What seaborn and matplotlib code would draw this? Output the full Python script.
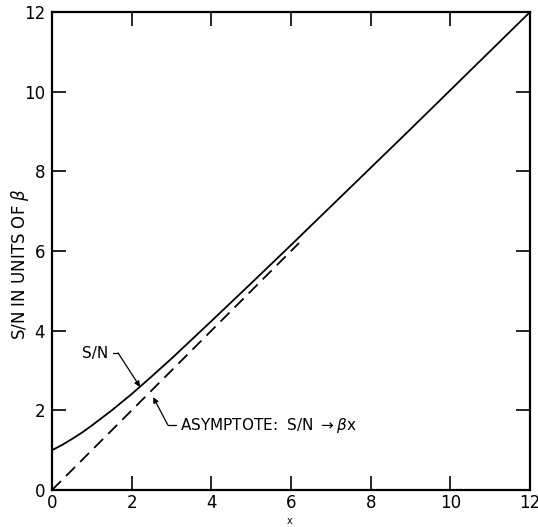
import matplotlib
matplotlib.use("Agg")
import matplotlib.pyplot as plt
import seaborn as sns
import pandas as pd

# Data
x_curve = [0.0, 0.25, 0.5, 0.75, 1.0, 1.5, 2.0, 2.5, 3.0, 3.5, 4.0, 5.0, 6.0, 7.0, 8.0, 9.0, 10.0, 11.0, 12.0]
sn_curve = [1.0, 1.13, 1.28, 1.44, 1.62, 2.0, 2.41, 2.85, 3.30, 3.77, 4.24, 5.19, 6.15, 7.12, 8.09, 9.06, 10.04, 11.02, 12.0]
x_asym = [0.0, 6.2]
y_asym = [0.0, 6.2]
ticks = [0, 2, 4, 6, 8, 10, 12]

sns.set_theme(style="ticks")
plt.rcParams['font.family'] = ['DejaVu Sans']
plt.rcParams['text.color'] = 'black'

fig = plt.figure(figsize=(5.38, 5.27), dpi=100)
ax = fig.add_axes([0.0967, 0.0702, 0.8883, 0.9068])

df_c = pd.DataFrame({"x": x_curve, "y": sn_curve})
df_a = pd.DataFrame({"x": x_asym, "y": y_asym})
sns.lineplot(data=df_c, x="x", y="y", ax=ax, color="black", linewidth=1.3, sort=False)
sns.lineplot(data=df_a, x="x", y="y", ax=ax, color="black", linewidth=1.3,
             linestyle=(0, (7, 4)), sort=False)

ax.set_xlim(0, 12)
ax.set_ylim(0, 12)
ax.set_xticks(ticks)
ax.set_yticks(ticks)
ax.set_xticklabels([str(t) for t in ticks], fontsize=12)
ax.set_yticklabels([str(t) for t in ticks], fontsize=12)
ax.tick_params(direction="in", length=10, width=1.2, top=True, right=True,
               colors="black")
ax.tick_params(axis="x", pad=3)
ax.tick_params(axis="y", pad=5)
for s in ax.spines.values():
    s.set_visible(True)
    s.set_linewidth(1.6)
    s.set_color("black")

ax.set_xlabel("")
ax.set_ylabel("")
fig.text(290 / 538, 1 - 521 / 527, "x", fontsize=7, ha="center", va="center")
fig.text(20 / 538, 1 - 264 / 527, "S/N IN UNITS OF $\\beta$", fontsize=12,
         rotation=90, ha="center", va="center")

arrow_kw = dict(arrowstyle="-|>", color="black", lw=0.9, shrinkA=0, shrinkB=0,
                mutation_scale=8)

# S/N label with leader
ax.text(0.75, 3.44, "S/N", fontsize=11, ha="left", va="center")
ax.plot([1.53, 1.66], [3.44, 3.44], color="black", lw=0.9)
ax.annotate("", xy=(2.21, 2.59), xytext=(1.66, 3.44), arrowprops=arrow_kw)

# Asymptote label with leader
ax.text(3.21, 1.63, "ASYMPTOTE:  S/N $\\rightarrow\\beta$x", fontsize=11,
        ha="left", va="center")
ax.plot([2.91, 3.11], [1.63, 1.63], color="black", lw=0.9)
ax.annotate("", xy=(2.54, 2.33), xytext=(2.91, 1.63), arrowprops=arrow_kw)

fig.savefig("out.png", dpi=100, facecolor="white")
